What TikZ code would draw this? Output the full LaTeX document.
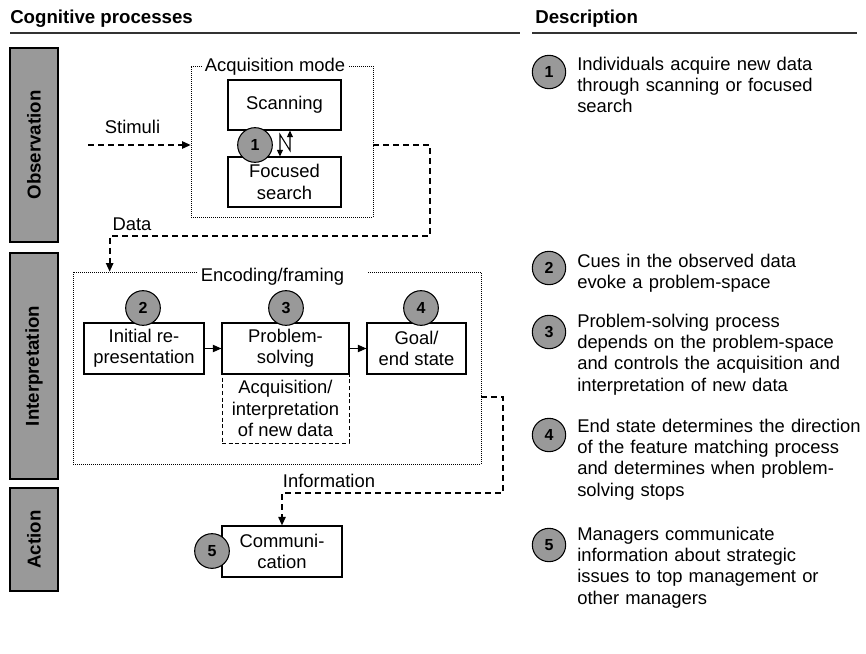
\documentclass[tikz,border=0pt]{standalone}
\usepackage{fontspec}
\setmainfont{Liberation Sans}
\usetikzlibrary{arrows.meta}
\definecolor{bargray}{HTML}{999999}
\begin{document}
\begin{tikzpicture}[x=0.75pt,y=-0.75pt,
  font=\fontsize{13.8}{16.1}\selectfont,
  >={Triangle[length=6.5pt,width=5.5pt]},
  sidebar/.style={draw,fill=bargray,line width=0.8pt,rotate=90,font=\fontsize{14}{16.1}\selectfont\bfseries,minimum height=36pt,inner sep=0pt},
  procbox/.style={draw,fill=white,line width=0.8pt,align=center,inner sep=0pt},
  numcirc/.style={circle,draw,fill=bargray,line width=0.8pt,minimum size=26pt,inner sep=0pt,font=\fontsize{12}{12}\selectfont\bfseries},
  dotframe/.style={draw,densely dotted,line width=0.5pt,inner sep=0pt},
  flow/.style={line width=1.3pt,dash pattern=on 4.5pt off 3pt,->},
  lbl/.style={anchor=base,inner sep=0pt},
  desc/.style={anchor=base west,align=left,inner sep=0pt,text width=230pt}]
\useasboundingbox (0,0) rectangle (866,653);
% headers
\node[lbl,anchor=base west,font=\fontsize{14}{16.1}\selectfont\bfseries] (hproc) at (10,23) {Cognitive processes};
\node[lbl,anchor=base west,font=\fontsize{14}{16.1}\selectfont\bfseries] (hdesc) at (535,23) {Description};
\draw[line width=1.1pt,black!80] (10,33) -- (520,33);
\draw[line width=1.1pt,black!80] (532,33) -- (857,33);
% phases
\node[sidebar,minimum width=145.5pt] (obs) at (34,145) {Observation};
\node[sidebar,minimum width=169.5pt] (interp) at (34,366) {Interpretation};
\node[sidebar,minimum width=77.25pt] (act) at (34,539.5) {Action};
% observation
\node[dotframe,minimum width=136.5pt,minimum height=113.25pt] (acqframe) at (282,141.5) {};
\node[lbl,fill=white,inner xsep=2pt] (acqlabel) at (275,71) {Acquisition mode};
\node[procbox,minimum width=84.75pt,minimum height=37.5pt] (scan) at (284.5,105) {Scanning};
\node[procbox,minimum width=84.75pt,minimum height=37.5pt] (focus) at (284.5,182) {Focused\\search};
\node[numcirc] (n1) at (255,145) {1};
\draw[{Triangle[length=5pt,width=4.5pt]}-{Triangle[length=5pt,width=4.5pt]},line width=0.8pt] ([xshift=-3.4pt]focus.north) -- ++(0,-22) -- ++(10,16) -- ([xshift=4.1pt]scan.south);
\coordinate (stimstart) at (88,145);
\draw[flow] (stimstart) -- (stimstart -| acqframe.west);
\node[lbl] (stimlabel) at (132.5,133) {Stimuli};
% interpretation
\node[dotframe,minimum width=306pt,minimum height=144pt] (encframe) at (277,368) {};
\node[lbl,anchor=base west,fill=white,inner xsep=2pt,text width=123.5pt,align=left] (enclabel) at (198,281) {Encoding/framing};
\draw[flow] ([yshift=-2.6pt]acqframe.east) -| (430,236) -| ([xshift=27.75pt]encframe.north west);
\node[lbl] (datalabel) at (132,230) {Data};
\node[procbox,minimum width=90pt,minimum height=38.25pt] (init) at (144,348.5) {Initial re-\\presentation};
\node[procbox,dash pattern=on 3pt off 2pt,line width=0.7pt,minimum width=95.25pt,minimum height=51.75pt] (acqint) at (285.5,408.5) {Acquisition/\\interpretation\\of new data};
\node[procbox,minimum width=95.25pt,minimum height=38.25pt] (prob) at (285.5,348.5) {Problem-\\solving};
\node[procbox,minimum width=74.25pt,minimum height=38.25pt] (goal) at (416.5,348.5) {Goal/\\end state};
\draw[->,line width=0.8pt] (init) -- (prob);
\draw[->,line width=0.8pt] (prob) -- (goal);
\node[numcirc] (n2) at (143,308) {2};
\node[numcirc] (n3) at (286,308) {3};
\node[numcirc] (n4) at (421,308) {4};
% action
\node[procbox,minimum width=90pt,minimum height=38.25pt] (comm) at (282,551.5) {Communi-\\cation};
\node[numcirc] (n5) at (212,551) {5};
\draw[flow] ([yshift=-21.75pt]encframe.east) -| (503,493) -| (comm.north);
\node[lbl] (infolabel) at (329,487) {Information};
% description
\node[numcirc,minimum size=25pt] (d1) at (549,72) {1};
\node[numcirc,minimum size=25pt] (d2) at (549,268) {2};
\node[numcirc,minimum size=25pt] (d3) at (549,332) {3};
\node[numcirc,minimum size=25pt] (d4) at (549,435) {4};
\node[numcirc,minimum size=25pt] (d5) at (549,545) {5};
\node[desc] (t1) at (577,70) {Individuals acquire new data\\through scanning or focused\\search};
\node[desc] (t2) at (577,267) {Cues in the observed data\\evoke a problem-space};
\node[desc] (t3) at (577,327) {Problem-solving process\\depends on the problem-space\\and controls the acquisition and\\interpretation of new data};
\node[desc] (t4) at (577,432) {End state determines the direction\\of the feature matching process\\and determines when problem-\\solving stops};
\node[desc] (t5) at (577,540) {Managers communicate\\information about strategic\\issues to top management or\\other managers};
\end{tikzpicture}
\end{document}
